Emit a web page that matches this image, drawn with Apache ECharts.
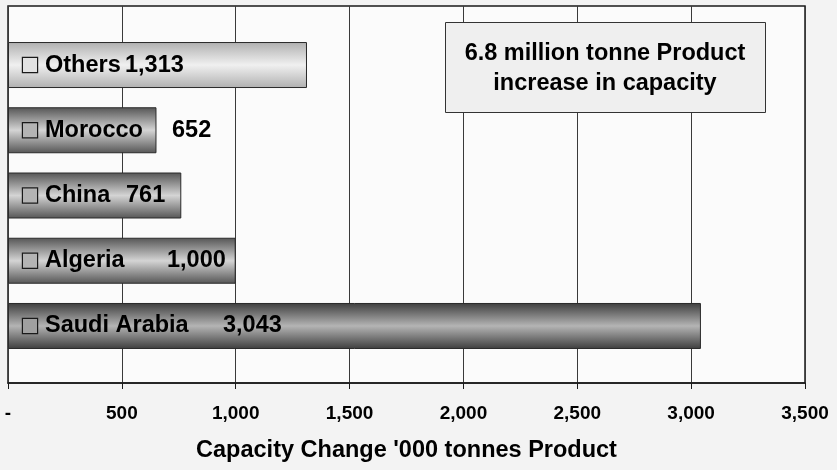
<!DOCTYPE html>
<html>
<head>
<meta charset="utf-8">
<script src="https://cdn.jsdelivr.net/npm/echarts@6/dist/echarts.min.js"></script>
<style>
html,body{margin:0;padding:0;background:#f3f3f3;}
#chart{width:837px;height:470px;}
</style>
</head>
<body>
<div id="chart"></div>
<script>
// ---- data ----
const categories = ['Saudi Arabia', 'Algeria', 'China', 'Morocco', 'Others'];
const capacityValues = [3043, 1000, 761, 652, 1313];
const valueLabels = ['3,043', '1,000', '761', '652', '1,313'];
const tickLabels = ['-', '500', '1,000', '1,500', '2,000', '2,500', '3,000', '3,500'];
const axisTitle = "Capacity Change '000 tonnes Product";
const noteText = '6.8 million tonne Product\nincrease in capacity';

// ---- styles ----
const FONT = '"Liberation Sans", Arial, sans-serif';
const LABEL_SIZE = 23.5;
const nameWidths = [178, 122, 81, 127, 80];
const barShades = [
  ['#3e3e3e', '#b4b4b4'],
  ['#555555', '#d4d4d4'],
  ['#555555', '#d4d4d4'],
  ['#555555', '#d4d4d4'],
  ['#b0b0b0', '#f0f0f0']
];
const boxShades = ['#a0a0a0', '#b4b4b4', '#b4b4b4', '#b4b4b4', '#e2e2e2'];

function grad(edge, mid) {
  return new echarts.graphic.LinearGradient(0, 0, 0, 1, [
    {offset: 0, color: edge},
    {offset: 0.5, color: mid},
    {offset: 1, color: edge}
  ]);
}

const barData = capacityValues.map((v, i) => ({
  value: v,
  itemStyle: {color: grad(barShades[i][0], barShades[i][1])},
  label: {
    show: true,
    position: 'insideLeft',
    distance: 15,
    color: '#000',
    formatter: '{b|}{s|}{n|' + categories[i] + '}{v|' + valueLabels[i] + '}',
    rich: {
      b: {width: 14, height: 14, borderColor: '#1a1a1a', borderWidth: 1.2, backgroundColor: boxShades[i]},
      s: {width: 8},
      n: {width: nameWidths[i], align: 'left', fontFamily: FONT, fontWeight: 'bold', fontSize: LABEL_SIZE, color: '#000'},
      v: {fontFamily: FONT, fontWeight: 'bold', fontSize: LABEL_SIZE, color: '#000'}
    }
  }
}));

const chart = echarts.init(document.getElementById('chart'));
chart.setOption({
  backgroundColor: '#f3f3f3',
  animation: false,
  grid: [
    {left: 8, right: 32, top: 6, bottom: 87, show: true, backgroundColor: '#fbfbfb',
     borderColor: '#1a1a1a', borderWidth: 1.5},
    {left: 8, right: 32, top: 32.4, bottom: 111.4}
  ],
  xAxis: [
    {
      gridIndex: 0, type: 'value', min: 0, max: 3500, interval: 500,
      axisLine: {show: true, lineStyle: {color: '#1a1a1a', width: 1.5}},
      axisTick: {show: true, length: 6, lineStyle: {color: '#1a1a1a'}},
      splitLine: {show: true, lineStyle: {color: '#3a3a3a', width: 1}},
      axisLabel: {
        margin: 21, color: '#000', fontFamily: FONT, fontWeight: 'bold', fontSize: 19,
        formatter: v => tickLabels[Math.round(v / 500)]
      },
      name: axisTitle, nameLocation: 'middle', nameGap: 56,
      nameTextStyle: {color: '#000', fontFamily: FONT, fontWeight: 'bold', fontSize: 23.5}
    },
    {gridIndex: 1, type: 'value', min: 0, max: 3500, interval: 500, show: false}
  ],
  yAxis: [
    {gridIndex: 0, type: 'category', data: categories, show: false},
    {gridIndex: 1, type: 'category', data: categories, show: false}
  ],
  series: [{
    type: 'bar',
    xAxisIndex: 1, yAxisIndex: 1,
    barWidth: 46,
    itemStyle: {borderColor: '#2a2a2a', borderWidth: 1},
    data: barData
  }],
  graphic: [
    {type: 'rect', left: 445, top: 22, z: 100,
     shape: {width: 320, height: 90},
     style: {fill: '#efefef', stroke: '#333', lineWidth: 1}},
    {type: 'text', x: 605, y: 69, z: 101,
     style: {text: noteText, fill: '#000', font: 'bold 23.5px ' + FONT,
             align: 'center', verticalAlign: 'middle', lineHeight: 30}}
  ]
});
</script>
</body>
</html>
